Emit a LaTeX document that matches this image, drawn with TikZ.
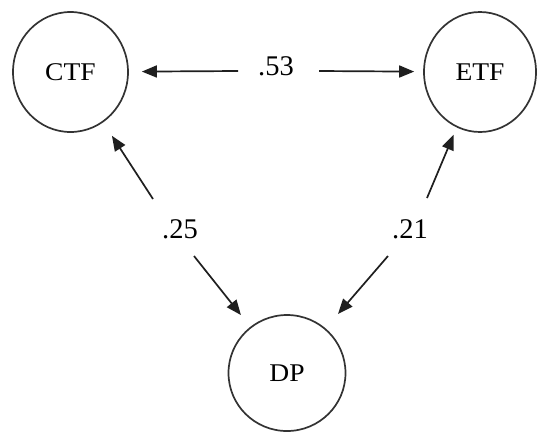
\documentclass[tikz,border=0pt]{standalone}
\usepackage{fontspec}
\setmainfont{Liberation Serif}
\newfontfamily\nodefont{Liberation Serif}[FakeStretch=1.08]
\usetikzlibrary{shapes.geometric,arrows.meta}
\begin{document}
\begin{tikzpicture}[x=1pt,y=-1pt,
  var/.style={ellipse,draw=black!80,line width=1.7pt,inner sep=0pt,
    font=\nodefont\fontsize{25.5}{30}\selectfont},
  lab/.style={inner sep=0pt,font=\fontsize{28.5}{32}\selectfont},
  arr/.style={draw=black!88,line width=1.7pt,-{Triangle[length=15pt,width=12pt]}}]
\useasboundingbox[fill=white] (0,0) rectangle (537,432);
\node[var,minimum width=115pt,minimum height=120pt] (ctf) at (70.5,72) {CTF};
\node[var,minimum width=112pt,minimum height=120pt] (etf) at (480,72) {ETF};
\node[var,minimum width=117pt,minimum height=116pt] (dp) at (287,373) {DP};
\node[lab] (l53) at (276,66) {.53};
\node[lab] (l25) at (180,229) {.25};
\node[lab] (l21) at (410,229) {.21};
\coordinate (a1) at (238,71);
\coordinate (a2) at (319,71);
\coordinate (b1) at (153,199);
\coordinate (b2) at (194,256);
\coordinate (c1) at (427,198);
\coordinate (c2) at (388,256);
\draw[arr,shorten >=13pt] (a1) -- (ctf);
\draw[arr,shorten >=9pt] (a2) -- (etf);
\draw[arr,shorten >=16pt] (b1) -- (ctf);
\draw[arr,shorten >=15pt] (b2) -- (dp);
\draw[arr,shorten >=8pt] (c1) -- (etf);
\draw[arr,shorten >=19pt] (c2) -- (dp);
\end{tikzpicture}
\end{document}
